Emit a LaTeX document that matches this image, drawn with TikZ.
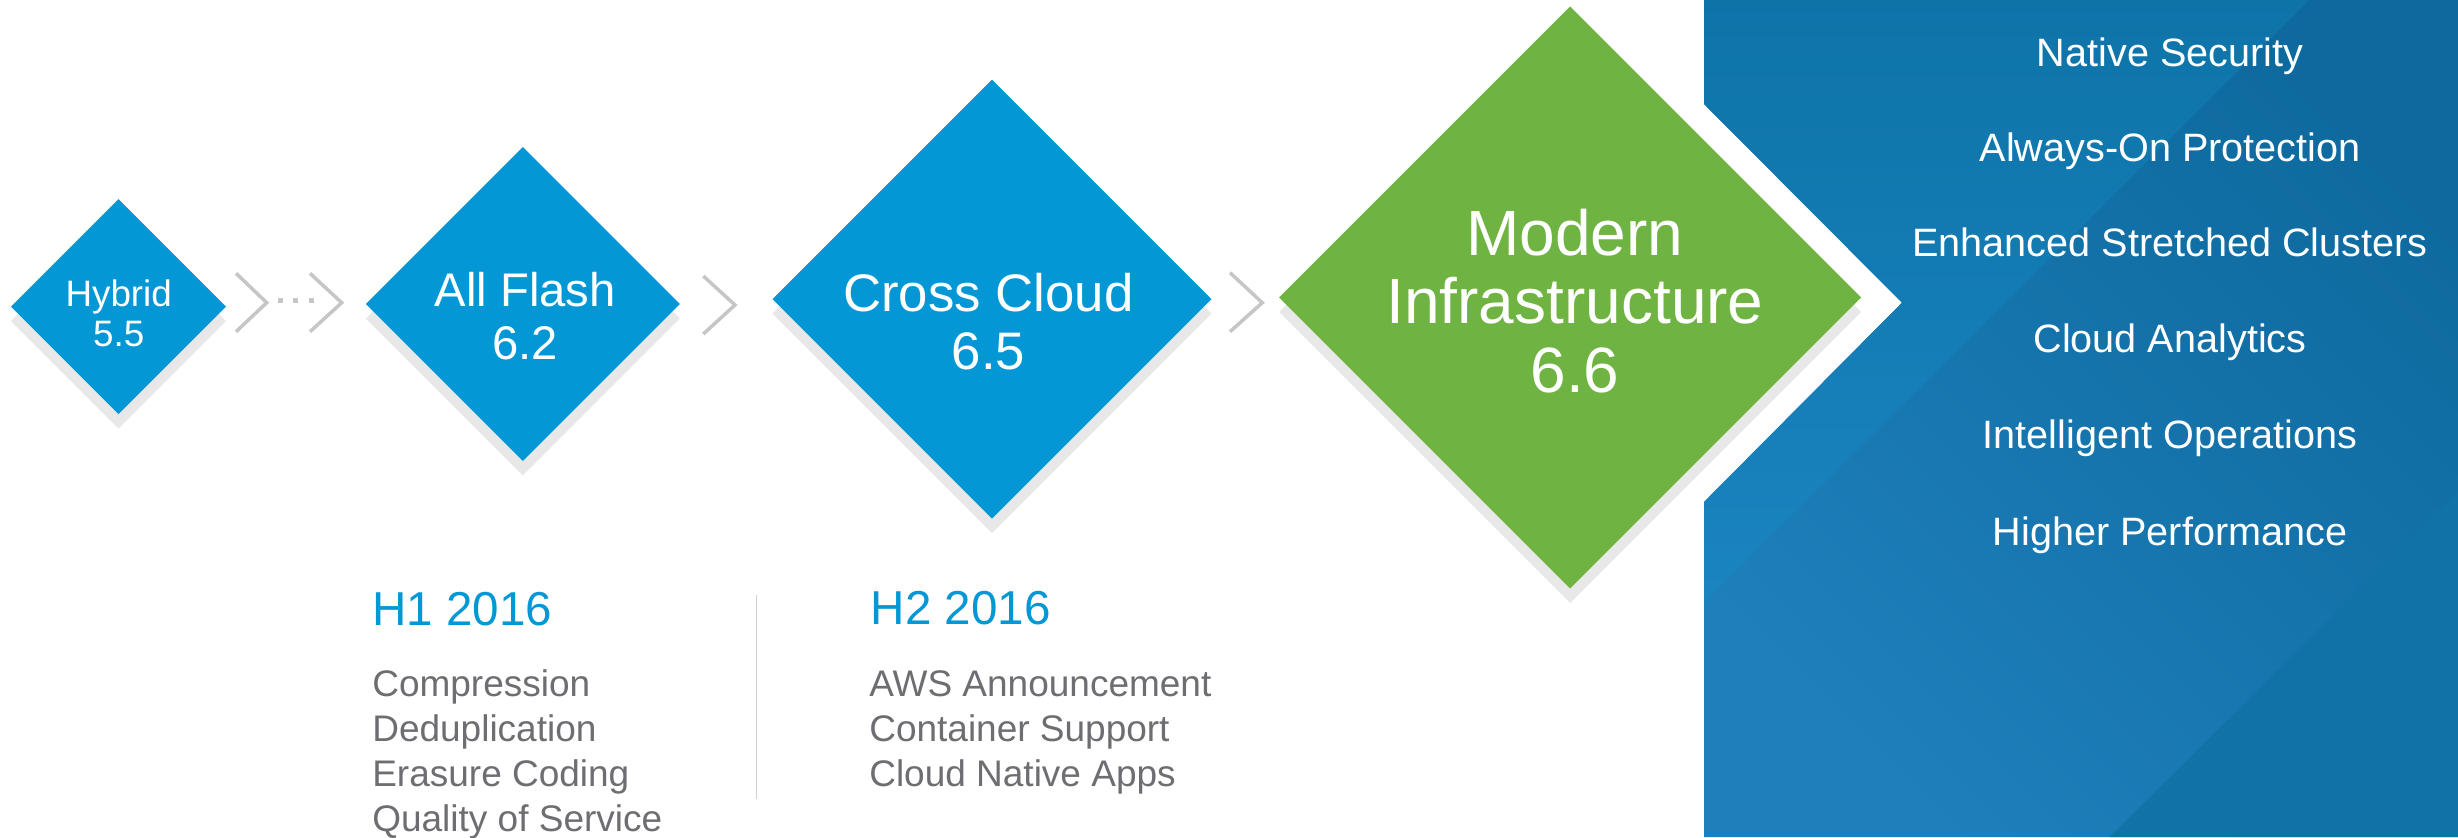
\documentclass[tikz,border=0pt]{standalone}
\usepackage{fontspec}
\setmainfont{Liberation Sans}
\usetikzlibrary{shapes.geometric}
\definecolor{vblue}{HTML}{0398D5}
\definecolor{vgreen}{HTML}{6FB443}
\definecolor{shadowgray}{HTML}{E8E8E8}
\definecolor{chevgray}{HTML}{C6C6C6}
\definecolor{textgray}{HTML}{6D6E71}
\definecolor{divgray}{HTML}{D0D0D0}
\definecolor{panDark}{HTML}{0E6A9E}
\definecolor{panLight}{HTML}{1E7FBB}
\definecolor{panMidTop}{HTML}{0E74A8}
\definecolor{panMidBot}{HTML}{1A84C1}
\definecolor{panLR}{HTML}{1172A7}
\begin{document}
\begin{tikzpicture}[x=0.5pt,y=-0.5pt,
  dia/.style={diamond, aspect=1, inner sep=0pt, outer sep=0pt, draw=none},
  chev/.style={draw=chevgray, line width=1.75pt, line cap=butt, line join=miter},
  wlbl/.style={inner sep=0pt, outer sep=0pt, text=white, anchor=base},
  hdr/.style={inner sep=0pt, outer sep=0pt, text=vblue, anchor=base west, font=\fontsize{23.8}{28}\selectfont},
  item/.style={inner sep=0pt, outer sep=0pt, text=textgray, anchor=base west, font=\fontsize{18.5}{22}\selectfont},
  rlist/.style={inner sep=0pt, outer sep=0pt, text=white, anchor=base, font=\fontsize{19.8}{24}\selectfont}]
\useasboundingbox (0,0) rectangle (2458,837);
\fill[white] (0,0) rectangle (2458,837);

% right panel
\begin{scope}
  \clip (1704,0) -- (2458,0) -- (2458,837) -- (1704,837) -- (1704,502) -- (1902,302.7) -- (1704,104) -- cycle;
  \shade[top color=panDark, bottom color=panLight, shading angle=-45] (1704,0) rectangle (2458,837);
  \shade[top color=panMidTop, bottom color=panMidBot] (1704,0) -- (2309,0) -- (1704,603) -- cycle;
  \fill[panLR] (2458,491) -- (2458,837) -- (2110,837) -- cycle;
\end{scope}

% diamonds with shadows
\node[dia, fill=shadowgray, minimum width=107.5pt, minimum height=107.5pt] (hybsh) at (118.5,321.2) {};
\node[dia, fill=vblue, minimum width=107.5pt, minimum height=107.5pt] (hyb) at (118.5,306.7) {};
\node[dia, fill=shadowgray, minimum width=157pt, minimum height=157pt] (flashsh) at (522.8,318.5) {};
\node[dia, fill=vblue, minimum width=157pt, minimum height=157pt] (flash) at (522.8,304) {};
\node[dia, fill=shadowgray, minimum width=219.5pt, minimum height=219.5pt] (crosssh) at (992,313.7) {};
\node[dia, fill=vblue, minimum width=219.5pt, minimum height=219.5pt] (cross) at (992,299.2) {};
\node[dia, fill=shadowgray, minimum width=291pt, minimum height=291pt] (modsh) at (1570,312) {};
\node[dia, fill=vgreen, minimum width=291pt, minimum height=291pt] (mod) at (1570,297.5) {};

% diamond labels
\node[wlbl, font=\fontsize{18.4}{22}\selectfont] (hyb1) at (118.7,306.7) {Hybrid};
\node[wlbl, font=\fontsize{18.4}{22}\selectfont] (hyb2) at (118.7,346.7) {5.5};
\node[wlbl, font=\fontsize{23.6}{28}\selectfont] (fl1) at (525.2,306.7) {All Flash};
\node[wlbl, font=\fontsize{23.6}{28}\selectfont] (fl2) at (525.2,359) {6.2};
\node[wlbl, font=\fontsize{26.4}{31}\selectfont] (cc1) at (988.5,311.7) {Cross Cloud};
\node[wlbl, font=\fontsize{26.4}{31}\selectfont] (cc2) at (988.5,369.3) {6.5};
\node[wlbl, font=\fontsize{32}{38}\selectfont] (mi1) at (1575,255) {Modern};
\node[wlbl, font=\fontsize{32}{38}\selectfont] (mi2) at (1575,323.3) {Infrastructure};
\node[wlbl, font=\fontsize{32}{38}\selectfont] (mi3) at (1575,392.7) {6.6};

% chevrons
\draw[chev] (236,273.3) -- (266.7,302.7) -- (236,331.7);
\draw[chev] (310,273.3) -- (341.7,302.7) -- (310,331.7);
\draw[chev] (703.3,276) -- (735,305) -- (703.3,334);
\draw[chev] (1230,272.7) -- (1262.3,302.7) -- (1230,331.7);
\foreach \dx in {280.2,295.2,311.8}{
  \fill[chevgray] (\dx-2.5,298.3) rectangle (\dx+2.5,303.3);
}

% H1 / H2 columns
\node[hdr] (h1) at (372.3,625) {H1 2016};
\node[item] (h1a) at (372.3,696.7) {Compression};
\node[item] (h1b) at (372.3,741.7) {Deduplication};
\node[item] (h1c) at (372.3,786.7) {Erasure Coding};
\node[item] (h1d) at (372.3,831) {Quality of Service};
\coordinate (divtop) at (756.7,595);
\coordinate (divbot) at (756.7,799.3);
\draw[divgray, line width=0.6pt] (divtop) -- (divbot);
\node[hdr] (h2) at (870.7,624) {H2 2016};
\node[item] (h2a) at (869.3,696.7) {AWS Announcement};
\node[item] (h2b) at (869.3,741.7) {Container Support};
\node[item] (h2c) at (869.3,786) {Cloud Native Apps};

% right list
\node[rlist] (r1) at (2170,66.5) {Native Security};
\node[rlist] (r2) at (2170,161) {Always-On Protection};
\node[rlist] (r3) at (2170,256.5) {Enhanced Stretched Clusters};
\node[rlist] (r4) at (2170,352.3) {Cloud Analytics};
\node[rlist] (r5) at (2170,448.3) {Intelligent Operations};
\node[rlist] (r6) at (2170,545) {Higher Performance};
\end{tikzpicture}
\end{document}
